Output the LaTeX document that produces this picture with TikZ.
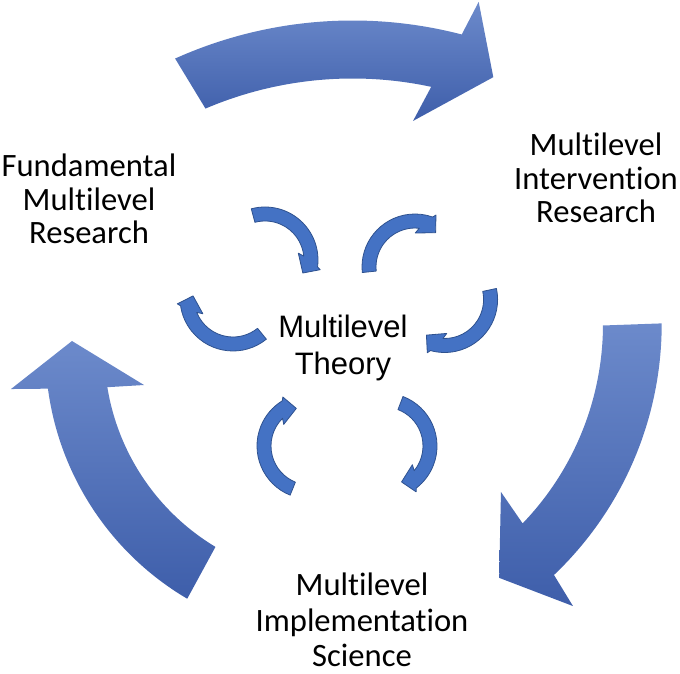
\documentclass[tikz,border=0pt]{standalone}
\usepackage{fontspec}
\setmainfont{Carlito}[Ligatures=NoCommon]
\newfontfamily\centerfont{Liberation Sans}
\definecolor{bigtop}{RGB}{108,138,203}
\definecolor{bigbot}{RGB}{62,94,170}
\definecolor{smfill}{RGB}{68,114,196}
\definecolor{smline}{RGB}{47,82,143}
\tikzset{
  bigarrow/.style={top color=bigtop, bottom color=bigbot, draw=none},
  smallarrow/.style={fill=smfill, draw=smline, line width=0.8pt, line join=round},
  label/.style={inner sep=0pt, anchor=base, font=\fontsize{32.6}{33.3}\selectfont},
  centrelabel/.style={inner sep=0pt, anchor=base, font=\centerfont\fontsize{31}{37}\selectfont}
}
\newcommand\smarrow[4]{%
  \begin{scope}[shift={(#1pt,#2pt)}]
    \filldraw[smallarrow] (#3:53pt) arc[start angle=#3, end angle={#4-6.5}, radius=53pt]
      -- ({#4-9}:56pt) -- ({#4-18}:40pt) -- ({#4+12.6}:34pt) -- ({#4+6.7}:39pt)
      arc[start angle={#4+6.7}, end angle=#3, radius=39pt] -- cycle;
  \end{scope}}
\begin{document}
\begin{tikzpicture}
\useasboundingbox (0pt,0pt) rectangle (680pt,674pt);
% big arrows
\begin{scope}[shift={(352.6pt,220.5pt)}]
  \path[bigarrow] (114.2:433pt) arc[start angle=114.2, end angle=75.4, radius=433pt]
    -- (74.4:468.9pt) -- (69.5:401.8pt) -- (79.7:338pt) -- (77.9:375pt)
    arc[start angle=77.9, end angle=113.1, radius=375pt] -- cycle;
\end{scope}
\begin{scope}[shift={(315.4pt,350pt)}]
  \path[bigarrow] (0.1:346.3pt) arc[start angle=0.1, end angle=-46.45, radius=346.3pt]
    -- (-47.6:382pt) -- (-54.1:313.4pt) -- (-42.15:250.3pt) -- (-43.9:287.6pt)
    arc[start angle=-43.9, end angle=-0.3, radius=287.6pt] -- cycle;
\end{scope}
\begin{scope}[shift={(333.4pt,323.4pt)}]
  \path[bigarrow] (239.5:288pt) arc[start angle=239.5, end angle=187.6, radius=288pt]
    -- (186.8:324.7pt) -- (177.9:261.6pt) -- (190.3:192.5pt) -- (189.2:229pt)
    arc[start angle=189.2, end angle=239, radius=229pt] -- cycle;
\end{scope}
% small arrows
\smarrow{265}{414}{105}{-1}
\smarrow{415}{407}{186}{77}
\smarrow{444.6}{374.5}{12}{-99}
\smarrow{384}{228}{69}{-46}
\smarrow{310}{228}{-112}{-232}
\smarrow{233}{376}{-51}{-165}
% labels
\node[label] (fund) at (89pt,497pt) {\begin{tabular}[t]{@{}c@{}}Fundamental\\Multilevel\\Research\end{tabular}};
\node[label] (interv) at (596pt,518pt) {\begin{tabular}[t]{@{}c@{}}Multilevel\\Intervention\\Research\end{tabular}};
\node[label, font=\fontsize{32.6}{35.5}\selectfont] (impl) at (362pt,78pt) {\begin{tabular}[t]{@{}c@{}}Multilevel\\Implementation\\Science\end{tabular}};
\node[centrelabel] (theory) at (343pt,336pt) {\begin{tabular}[t]{@{}c@{}}Multilevel\\Theory\end{tabular}};
\end{tikzpicture}
\end{document}
